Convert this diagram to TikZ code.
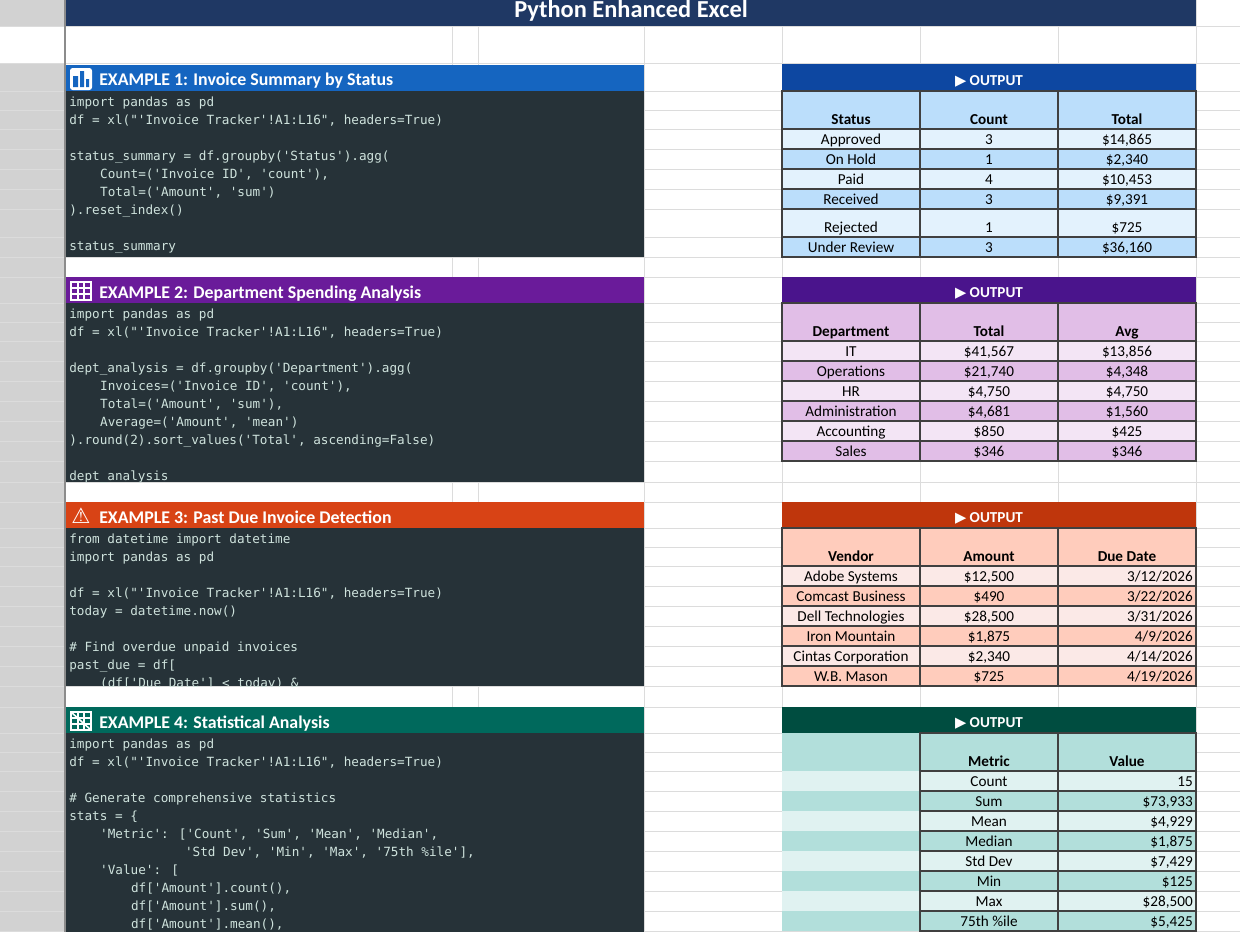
\documentclass[tikz,border=0pt]{standalone}
\usepackage{fontspec}
\setmainfont{Carlito}
\newfontfamily\codefont{DejaVu Sans Mono}
\newfontfamily\symfont{DejaVu Sans}
\definecolor{navy}{HTML}{1F3864}
\definecolor{codebg}{HTML}{263238}
\definecolor{codefg}{HTML}{CFE3DD}
\definecolor{gridc}{HTML}{DCDCDC}
\definecolor{rowhd}{HTML}{D2D2D2}
\definecolor{bA}{HTML}{1565C0}\definecolor{bB}{HTML}{0D47A1}\definecolor{bL}{HTML}{E3F2FD}\definecolor{bD}{HTML}{BBDEFB}
\definecolor{pA}{HTML}{6A1B9A}\definecolor{pB}{HTML}{4A148C}\definecolor{pL}{HTML}{F3E5F5}\definecolor{pD}{HTML}{E1BEE7}
\definecolor{oA}{HTML}{D84315}\definecolor{oB}{HTML}{BF360C}\definecolor{oL}{HTML}{FBE9E7}\definecolor{oD}{HTML}{FFCCBC}
\definecolor{gA}{HTML}{00695C}\definecolor{gB}{HTML}{004D40}\definecolor{gL}{HTML}{E0F2F1}\definecolor{gD}{HTML}{B2DFDB}
\tikzset{
 tt/.style={font=\fontsize{11.4}{13}\selectfont, inner sep=0pt, anchor=base},
 tth/.style={font=\fontsize{11.4}{13}\selectfont\bfseries, inner sep=0pt, anchor=base},
 tb/.style={draw=black!75, line width=0.8},
 code/.style={font=\codefont\fontsize{9.5}{11}\selectfont, text=codefg, anchor=base west, inner sep=0pt},
 sechd/.style={font=\fontsize{13.4}{15}\selectfont\bfseries, text=white, anchor=base west, inner sep=0pt},
 outhd/.style={font=\fontsize{11.4}{13}\selectfont\bfseries, text=white, inner sep=0pt, anchor=base},
}
\newcommand\cl[3]{\node[code] at ({69+#1*7.72},#2+6) {#3};}
\newcommand\trow[8]{%
 \fill[#3] (782,#1) rectangle (1196,#2);
 \draw[tb] (782,#1) rectangle (1196,#2) (920,#1)--(920,#2) (1058,#1)--(1058,#2);
 \node[#8] at (851,#2-5) {#4};
 \node[#8] at (989,#2-5) {#5};
 \node[#8,#7] at (1127,#2-5) {#6};}
\newcommand\srow[6]{%
 \fill[#3] (782,#1) rectangle (1196,#2);
 \draw[tb] (920,#1) rectangle (1196,#2) (1058,#1)--(1058,#2);
 \node[#6] at (989,#2-5) {#4};
 \node[#6,anchor=base east] at (1193,#2-5) {#5};}
\newcommand\outhead[3]{%
 \fill[#3] (782,#1) rectangle (1196,#2);
 \node[outhd] at (989,#2-6) {{\symfont\fontsize{11}{12}\selectfont ▶} OUTPUT};}
\begin{document}
\begin{tikzpicture}[x=0.75pt,y=-0.75pt]
\useasboundingbox (0,0) rectangle (1240,932);
\fill[white] (0,0) rectangle (1240,932);
\fill[rowhd] (0,0) rectangle (65,932);
\fill[white] (0,26) rectangle (65,63);
\foreach \y in {26,63,91,110,129,149,169,189,209,237,257,277,303,322,341,361,381,401,421,441,461,482,502,528,547,566,586,606,626,646,666,686,707,733,752,771,791,811,831,851,871,891,911,931}
 {\draw[gridc,line width=0.6] (0,\y) -- (1240,\y);}
\foreach \x in {452,478,644,782,920,1058,1196}
 {\draw[gridc,line width=0.6] (\x,0) -- (\x,932);}
\draw[black!45,line width=0.8] (65,0) -- (65,932);
\fill[navy] (66,0) rectangle (1196,26);
\node[font=\fontsize{18.3}{20}\selectfont\bfseries, text=white, inner sep=0pt, anchor=base] (title) at (631,17) {Python Enhanced Excel};

% ===== Example 1
\fill[bA] (66,65) rectangle (644,91);
\fill[white,rounded corners=2] (70,68) rectangle (92,90);
\fill[bA] (73,76) rectangle (78,87) (80,71) rectangle (84,87) (86,79) rectangle (89,87);
\node[sechd] (h1) at (99,85) {EXAMPLE 1: Invoice Summary by Status};
\fill[codebg] (66,91) rectangle (644,257);
\cl{0}{100}{import pandas as pd}
\cl{0}{118}{df = xl("'Invoice Tracker'!A1:L16", headers=True)}
\cl{0}{154}{status\_summary = df.groupby('Status').agg(}
\cl{4}{172}{Count=('Invoice ID', 'count'),}
\cl{4}{190}{Total=('Amount', 'sum')}
\cl{0}{208}{).reset\_index()}
\cl{0}{244}{status\_summary}
\outhead{64}{91}{bB}
\trow{91}{129}{bD}{Status}{Count}{Total}{}{tth}
\trow{129}{149}{bL}{Approved}{3}{\$14,865}{}{tt}
\trow{149}{169}{bD}{On Hold}{1}{\$2,340}{}{tt}
\trow{169}{189}{bL}{Paid}{4}{\$10,453}{}{tt}
\trow{189}{209}{bD}{Received}{3}{\$9,391}{}{tt}
\trow{209}{237}{bL}{Rejected}{1}{\$725}{}{tt}
\trow{237}{257}{bD}{Under Review}{3}{\$36,160}{}{tt}

% ===== Example 2
\fill[pA] (66,277) rectangle (644,303);
\draw[white,line width=1.2] (71,282) rectangle (91,300) (71,288)--(91,288) (71,294)--(91,294) (78,282)--(78,300) (84,282)--(84,300);
\node[sechd] (h2) at (99,298) {EXAMPLE 2: Department Spending Analysis};
\fill[codebg] (66,303) rectangle (644,482);
\begin{scope}
\clip (66,303) rectangle (644,482);
\cl{0}{312}{import pandas as pd}
\cl{0}{330}{df = xl("'Invoice Tracker'!A1:L16", headers=True)}
\cl{0}{366}{dept\_analysis = df.groupby('Department').agg(}
\cl{4}{384}{Invoices=('Invoice ID', 'count'),}
\cl{4}{402}{Total=('Amount', 'sum'),}
\cl{4}{420}{Average=('Amount', 'mean')}
\cl{0}{438}{).round(2).sort\_values('Total', ascending=False)}
\cl{0}{474}{dept\_analysis}
\end{scope}
\outhead{277}{303}{pB}
\trow{303}{341}{pD}{Department}{Total}{Avg}{}{tth}
\trow{341}{361}{pL}{IT}{\$41,567}{\$13,856}{}{tt}
\trow{361}{381}{pD}{Operations}{\$21,740}{\$4,348}{}{tt}
\trow{381}{401}{pL}{HR}{\$4,750}{\$4,750}{}{tt}
\trow{401}{421}{pD}{Administration}{\$4,681}{\$1,560}{}{tt}
\trow{421}{441}{pL}{Accounting}{\$850}{\$425}{}{tt}
\trow{441}{461}{pD}{Sales}{\$346}{\$346}{}{tt}

% ===== Example 3
\fill[oA] (66,502) rectangle (644,528);
\node[text=white, font=\symfont\fontsize{16}{17}\selectfont, inner sep=0pt] (w3) at (81,516) {⚠};
\node[sechd] (h3) at (99,523) {EXAMPLE 3: Past Due Invoice Detection};
\fill[codebg] (66,528) rectangle (644,686);
\begin{scope}
\clip (66,528) rectangle (644,686);
\cl{0}{537}{from datetime import datetime}
\cl{0}{555}{import pandas as pd}
\cl{0}{591}{df = xl("'Invoice Tracker'!A1:L16", headers=True)}
\cl{0}{609}{today = datetime.now()}
\cl{0}{645}{\# Find overdue unpaid invoices}
\cl{0}{663}{past\_due = df[}
\cl{4}{681}{(df['Due Date'] < today) \&}
\end{scope}
\outhead{502}{528}{oB}
\trow{528}{566}{oD}{Vendor}{Amount}{Due Date}{}{tth}
\trow{566}{586}{oL}{Adobe Systems}{\$12,500}{3/12/2026}{anchor=base east,xshift=49.5}{tt}
\trow{586}{606}{oD}{Comcast Business}{\$490}{3/22/2026}{anchor=base east,xshift=49.5}{tt}
\trow{606}{626}{oL}{Dell Technologies}{\$28,500}{3/31/2026}{anchor=base east,xshift=49.5}{tt}
\trow{626}{646}{oD}{Iron Mountain}{\$1,875}{4/9/2026}{anchor=base east,xshift=49.5}{tt}
\trow{646}{666}{oL}{Cintas Corporation}{\$2,340}{4/14/2026}{anchor=base east,xshift=49.5}{tt}
\trow{666}{686}{oD}{W.B. Mason}{\$725}{4/19/2026}{anchor=base east,xshift=49.5}{tt}

% ===== Example 4
\fill[gA] (66,707) rectangle (644,733);
\draw[white,line width=1.2] (71,712) rectangle (91,730) (71,718)--(91,718) (71,724)--(91,724) (78,712)--(78,730) (84,712)--(84,730) (71,712)--(91,730);
\node[sechd] (h4) at (99,728) {EXAMPLE 4: Statistical Analysis};
\fill[codebg] (66,733) rectangle (644,932);
\begin{scope}
\clip (66,733) rectangle (644,932);
\cl{0}{742}{import pandas as pd}
\cl{0}{760}{df = xl("'Invoice Tracker'!A1:L16", headers=True)}
\cl{0}{796}{\# Generate comprehensive statistics}
\cl{0}{814}{stats = \{}
\cl{4}{832}{'Metric': ['Count', 'Sum', 'Mean', 'Median',}
\cl{15}{850}{'Std Dev', 'Min', 'Max', '75th \%ile'],}
\cl{4}{868}{'Value': [}
\cl{8}{886}{df['Amount'].count(),}
\cl{8}{904}{df['Amount'].sum(),}
\cl{8}{922}{df['Amount'].mean(),}
\end{scope}
\outhead{707}{733}{gB}
\fill[gD] (782,733) rectangle (1196,771);
\draw[tb] (920,733) rectangle (1196,771) (1058,733)--(1058,771);
\node[tth] at (989,766) {Metric};
\node[tth] at (1127,766) {Value};
\srow{771}{791}{gL}{Count}{15}{tt}
\srow{791}{811}{gD}{Sum}{\$73,933}{tt}
\srow{811}{831}{gL}{Mean}{\$4,929}{tt}
\srow{831}{851}{gD}{Median}{\$1,875}{tt}
\srow{851}{871}{gL}{Std Dev}{\$7,429}{tt}
\srow{871}{891}{gD}{Min}{\$125}{tt}
\srow{891}{911}{gL}{Max}{\$28,500}{tt}
\srow{911}{931}{gD}{75th \%ile}{\$5,425}{tt}
\end{tikzpicture}
\end{document}
